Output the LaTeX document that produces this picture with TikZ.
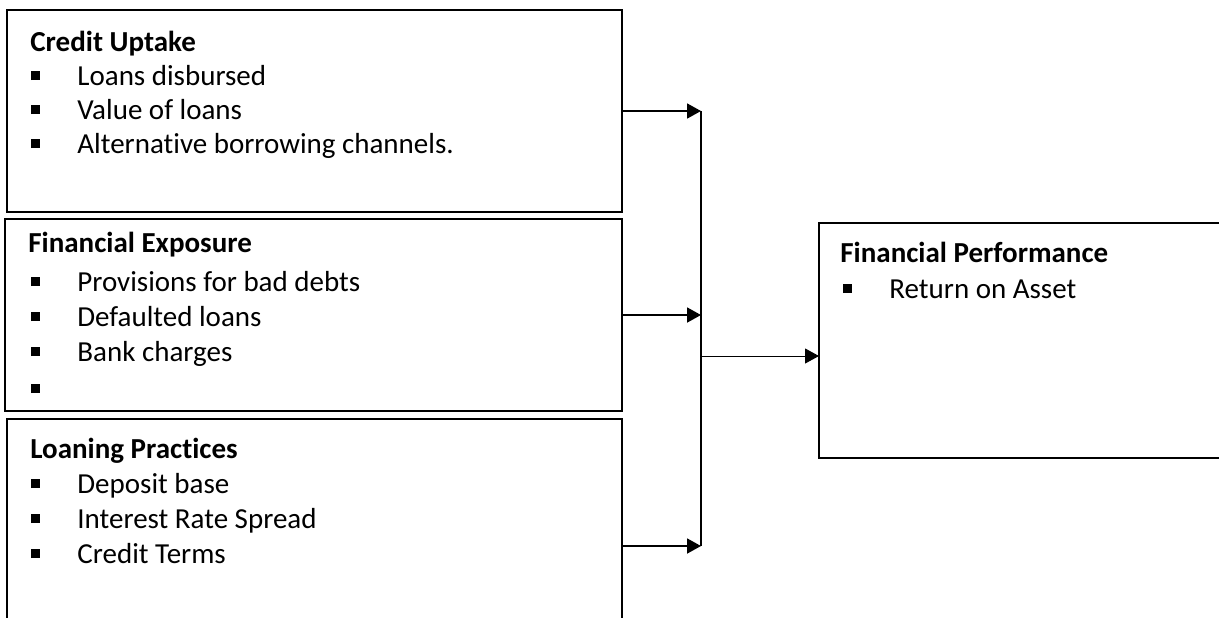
\documentclass[tikz,border=0pt]{standalone}
\usepackage{fontspec}
\setmainfont{Carlito}[Ligatures=NoCommon]
\usetikzlibrary{arrows.meta, positioning}
\newcommand{\sqbullet}{\rule[2.5pt]{4.5pt}{4.5pt}}
\tikzset{
    panel/.style={draw, line width=1.3pt, inner sep=0pt, outer sep=0pt},
    headtext/.style={anchor=base west, inner sep=0pt,
        font=\fontsize{14.5}{17}\selectfont\bfseries},
    itemtext/.style={anchor=base west, inner sep=0pt,
        font=\fontsize{14.5}{17}\selectfont},
    link/.style={line width=0.9pt, -{Triangle[length=7pt,width=7.5pt]}},
    thinlink/.style={line width=0.5pt, -{Triangle[length=7pt,width=7.5pt]}}
}

\begin{document}
\begin{tikzpicture}[x=0.5pt, y=-0.5pt]

    \useasboundingbox (0,0) rectangle (1219,617);
    \clip (0,0) rectangle (1219,617);

    % LEFT COLUMN: three factor boxes
    \node[panel, minimum width=307.5pt, minimum height=101pt]
        (uptake) at (314.5,111) {};
    \node[panel, minimum width=308.5pt, minimum height=96pt]
        (exposure) at (313.5,315) {};
    \node[panel, minimum width=307.5pt, minimum height=127pt]
        (practice) at (314.5,546) {};

    % Credit Uptake
    \node[headtext] (uptake-h) at (30,51) {Credit Uptake};
    \foreach \txt [count=\i] in {Loans disbursed, Value of loans,
                                 Alternative borrowing channels.} {
        \node[itemtext] (uptake-b\i) at (31,51+34*\i) {\sqbullet};
        \node[itemtext] (uptake-t\i) at (77,51+34*\i) {\txt};
    }

    % Financial Exposure
    \node[headtext] (exposure-h) at (28,252) {Financial Exposure};
    \foreach \txt [count=\i] in {Provisions for bad debts, Defaulted loans,
                                 Bank charges} {
        \node[itemtext] (exposure-b\i) at (31,256+35*\i) {\sqbullet};
        \node[itemtext] (exposure-t\i) at (77,256+35*\i) {\txt};
    }
    \node[itemtext] (exposure-b4) at (31,398) {\sqbullet};

    % Loaning Practices
    \node[headtext] (practice-h) at (30,458) {Loaning Practices};
    \foreach \txt [count=\i] in {Deposit base, Interest Rate Spread,
                                 Credit Terms} {
        \node[itemtext] (practice-b\i) at (31,458+35*\i) {\sqbullet};
        \node[itemtext] (practice-t\i) at (77,458+35*\i) {\txt};
    }

    % RIGHT: outcome box
    \node[panel, minimum width=205.5pt, minimum height=117.5pt]
        (perform) at (1024.5,340.5) {};
    \node[headtext] (perform-h) at (840,262) {Financial Performance};
    \node[itemtext] (perform-b1) at (843,298) {\sqbullet};
    \node[itemtext] (perform-t1) at (889,298) {Return on Asset};

    % CONNECTORS
    \coordinate (bartop) at (701,111);
    \coordinate (barbot) at (701,546);
    \coordinate (join) at (701,356);
    \draw[line width=0.9pt] (bartop) -- (barbot);
    \draw[link] (uptake.east) -- (uptake.east -| bartop);
    \draw[link] (exposure.east) -- (exposure.east -| bartop);
    \draw[link] (practice.east) -- (practice.east -| bartop);
    \draw[thinlink] (join) -- (join -| perform.west);

\end{tikzpicture}
\end{document}
